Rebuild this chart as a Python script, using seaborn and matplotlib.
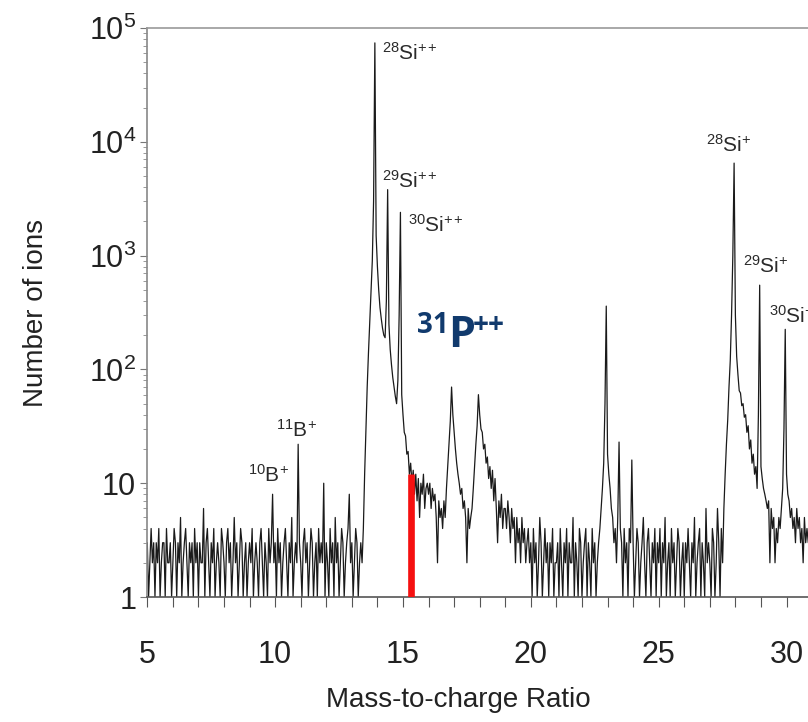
import numpy as np
import matplotlib
matplotlib.use('Agg')
from matplotlib import pyplot as plt
from matplotlib.ticker import FixedLocator, MultipleLocator, LogLocator, FixedFormatter, NullFormatter
import seaborn as sns

# ion counts, one row per m/z unit, 0.05 apart, starting at 5.00
mz_start = 5.0
mz_step = 0.05
counts = [
    3, 1, 2, 4, 2, 3, 1, 3, 2, 4, 1, 2, 3, 3, 1, 4, 2, 2, 3, 1,                      # 5
    2, 4, 3, 1, 3, 2, 5, 1, 2, 3, 4, 2, 1, 3, 2, 3, 1, 4, 2, 3,                      # 6
    1, 3, 2, 2, 6, 1, 3, 4, 2, 1, 3, 2, 4, 1, 2, 3, 2, 1, 4, 3,                      # 7
    2, 1, 3, 4, 2, 3, 1, 2, 5, 2, 3, 1, 2, 4, 3, 1, 2, 3, 1, 2,                      # 8
    3, 2, 4, 1, 2, 3, 2, 1, 3, 4, 2, 1, 3, 2, 1, 4, 2, 3, 8, 2,                      # 9
    3, 1, 4, 2, 3, 1, 2, 3, 4, 2, 1, 3, 2, 5, 1, 2, 3, 2, 22, 3,                     # 10
    2, 1, 3, 4, 2, 3, 1, 2, 4, 3, 1, 2, 3, 1, 4, 2, 3, 2, 10, 1,                     # 11
    3, 2, 1, 4, 2, 3, 1, 5, 2, 3, 1, 2, 4, 3, 1, 2, 3, 4, 8, 2,                      # 12
    3, 1, 2, 4, 3, 1, 2, 3, 2, 4, 12, 30, 70, 140, 260, 480, 900, 3000, 74000, 1500,  # 13
    800, 500, 350, 280, 230, 200, 190, 400, 3800, 250,
    150, 110, 85, 70, 58, 50, 80, 300, 2400, 60,                                     # 14
    40, 28, 26, 18, 19, 12, 15, 10, 13, 8, 12, 7, 11, 5, 10, 8, 12, 6, 9, 10,        # 15
    8, 10, 6, 9, 7, 8, 5, 2, 7, 5, 6, 4, 7, 5, 9, 14, 22, 35, 70, 40,                # 16
    28, 20, 15, 12, 10, 8, 9, 6, 7, 5, 2, 6, 4, 5, 6, 9, 14, 22, 32, 60,             # 17
    40, 30, 28, 20, 22, 15, 17, 11, 14, 9, 13, 7, 11, 6, 3, 7, 5, 8, 4, 6,           # 18
    6, 4, 7, 5, 3, 6, 4, 5, 2, 5, 3, 4, 2, 5, 3, 4, 2, 3, 4, 2,                      # 19
    3, 1, 4, 2, 3, 1, 2, 5, 3, 1, 2, 4, 2, 3, 1, 3, 2, 4, 1, 2,                      # 20
    2, 3, 1, 4, 2, 1, 3, 2, 4, 1, 3, 2, 2, 5, 1, 3, 2, 1, 4, 3,                      # 21
    1, 2, 3, 4, 1, 3, 2, 1, 4, 2, 3, 1, 2, 3, 4, 6, 9, 15, 50, 360,                  # 22
    18, 12, 9, 6, 5, 3, 4, 2, 5, 23, 4, 3, 1, 4, 2, 3, 1, 4, 3, 16,                  # 23
    3, 1, 2, 4, 3, 1, 2, 3, 5, 2, 1, 3, 4, 2, 1, 3, 2, 4, 1, 3,                      # 24
    2, 4, 1, 3, 2, 5, 1, 2, 3, 1, 4, 2, 3, 1, 2, 4, 3, 1, 2, 3,                      # 25
    1, 3, 2, 4, 2, 1, 3, 2, 5, 1, 2, 3, 4, 1, 3, 2, 1, 6, 2, 3,                      # 26
    2, 1, 4, 3, 1, 2, 6, 3, 1, 4, 2, 6, 12, 22, 36, 70, 120, 300, 1000, 6500,        # 27
    300, 130, 90, 65, 62, 48, 50, 38, 40, 28, 32, 20, 24, 15, 18, 12, 14, 9, 40, 550,  # 28
    14, 11, 9, 8, 7, 6, 7, 2, 6, 4, 5, 2, 4, 3, 5, 4, 6, 9, 30, 225,                 # 29
    12, 8, 7, 5, 6, 4, 5, 3, 6, 4, 5, 3, 4, 2, 5, 3, 4, 3,                           # 30
]

# ion labels: text, m/z of left edge, count at baseline
ion_text = [r'$^{28}$Si$^{+}$$^{+}$', r'$^{29}$Si$^{+}$$^{+}$', r'$^{30}$Si$^{+}$$^{+}$',
            r'$^{28}$Si$^{+}$', r'$^{29}$Si$^{+}$', r'$^{30}$Si$^{+}$',
            r'$^{11}$B$^{+}$', r'$^{10}$B$^{+}$']
ion_mz = [14.16, 14.16, 15.20, 26.85, 28.29, 29.31, 10.03, 8.93]
ion_y = [52400, 3930, 1620, 8130, 703, 256, 25.5, 10.3]

# expected 31P++ position
p31_mz = 15.3
p31_count = 12

ytick_vals = [1, 10, 100, 1000, 10000, 100000]
ytick_text = ['1', '10', r'$10^2$', r'$10^3$', r'$10^4$', r'$10^5$']
xtick_vals = [5, 10, 15, 20, 25, 30]

mz = np.round(mz_start + mz_step * np.arange(len(counts)), 2)

sns.set_theme(style='white')
plt.rcParams['font.family'] = ['Liberation Sans', 'DejaVu Sans']
plt.rcParams['mathtext.fontset'] = 'custom'
plt.rcParams['mathtext.rm'] = 'Liberation Sans'
plt.rcParams['mathtext.default'] = 'rm'

fig = plt.figure(figsize=(8.08, 7.22), dpi=100)
ax = fig.add_axes([0.1823, 0.1731, 0.8177, 0.7881])
ax.set_yscale('log')

sns.lineplot(x=mz, y=counts, ax=ax, color='#1a1a1a', lw=0.9, estimator=None)

ax.vlines(p31_mz, 1, p31_count, color='#f51010', lw=4.8, zorder=5)

for t, x, y in zip(ion_text, ion_mz, ion_y):
    ax.text(x, y, t, fontsize=15, color='#2a2a2a', ha='left', va='baseline')

navy = '#113a6d'
ax.text(15.55, 209, '31', fontsize=20, color=navy, fontweight='bold',
        family='Open Sans', ha='left', va='baseline')
ax.text(16.76, 157, 'P', fontsize=31, color=navy, fontweight='bold',
        family='Open Sans', ha='left', va='baseline')
ax.text(17.74, 209, '++', fontsize=20, color=navy, fontweight='bold',
        family='Open Sans', ha='left', va='baseline')

ax.set_xlim(5, 30.84)
ax.set_ylim(1, 1e5)

ax.xaxis.set_major_locator(FixedLocator(xtick_vals))
ax.xaxis.set_minor_locator(MultipleLocator(1))
ax.yaxis.set_major_locator(FixedLocator(ytick_vals))
ax.yaxis.set_major_formatter(FixedFormatter(ytick_text))
ax.yaxis.set_minor_locator(LogLocator(base=10, subs=np.arange(2, 10)))
ax.yaxis.set_minor_formatter(NullFormatter())

ax.tick_params(axis='x', which='major', direction='out', length=7, width=0.8,
               color='#555555', labelsize=22, labelcolor='#222222', pad=24, bottom=True)
ax.tick_params(axis='x', which='minor', direction='out', length=7, width=0.8,
               color='#555555', bottom=True)
ax.tick_params(axis='y', which='major', direction='out', length=5, width=0.8,
               color='#777777', labelsize=22, labelcolor='#222222', pad=3, left=True)
ax.tick_params(axis='y', which='minor', direction='out', length=3, width=0.6,
               color='#888888', left=True)

for side, c in [('left', '#888888'), ('top', '#9a9a9a'), ('bottom', '#555555')]:
    ax.spines[side].set_color(c)
    ax.spines[side].set_linewidth(1.2)
ax.spines['right'].set_visible(False)

ax.set_xlabel('Mass-to-charge Ratio', fontsize=20, color='#222222')
ax.set_ylabel('Number of ions', fontsize=20, color='#222222')
ax.xaxis.label.set_va('center')
ax.yaxis.label.set_va('center')
ax.xaxis.set_label_coords(0.47, -0.181)
ax.yaxis.set_label_coords(-0.169, 0.5)

fig.savefig('out.png', dpi=100)
